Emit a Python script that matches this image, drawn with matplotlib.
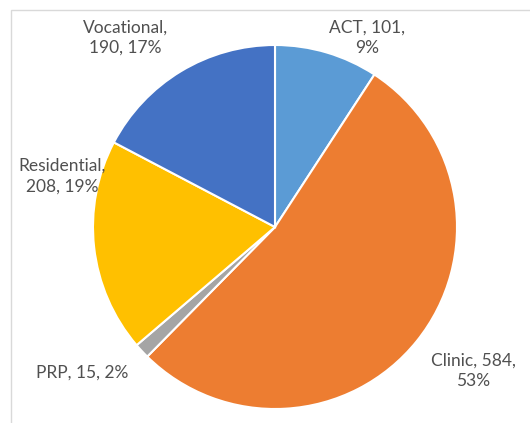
import matplotlib.pyplot as plt
from matplotlib.patches import Rectangle

labels = ["ACT", "Clinic", "PRP", "Residential", "Vocational"]
values = [101, 584, 15, 208, 190]
colors = ["#5B9BD5", "#ED7D31", "#A5A5A5", "#FFC000", "#4472C4"]
# where excel put each data label, in units of the pie radius
label_pos = [(0.505, 1.04), (1.09, -0.79), (-1.06, -0.80), (-1.17, 0.28), (-0.824, 1.04)]
label_text = ["ACT, 101,\n9%", "Clinic, 584,\n53%", "PRP, 15, 2%",
              "Residential,\n208, 19%", "Vocational,\n190, 17%"]

W, H = 530, 423
fig = plt.figure(figsize=(W / 100, H / 100), dpi=100)
cx, cy, R = 275, 227, 182
ax = fig.add_axes([(cx - R) / W, (H - cy - R) / H, 2 * R / W, 2 * R / H])

ax.pie(values, colors=colors, startangle=90, counterclock=False,
       wedgeprops=dict(edgecolor="white", linewidth=1.5))
ax.set_xlim(-1, 1)
ax.set_ylim(-1, 1)

for (x, y), t in zip(label_pos, label_text):
    ax.text(x, y, t, ha="center", va="center", fontsize=12.5, color="#505050",
            family="Lato", linespacing=1.35)

# chart area border (cut off on right and bottom)
fig.patches.append(Rectangle((11 / W, -0.1), 2, 1 - 10 / H + 0.1, fill=False,
                             edgecolor="#D9D9D9", linewidth=1, transform=fig.transFigure))

fig.savefig("out.png", dpi=100)
